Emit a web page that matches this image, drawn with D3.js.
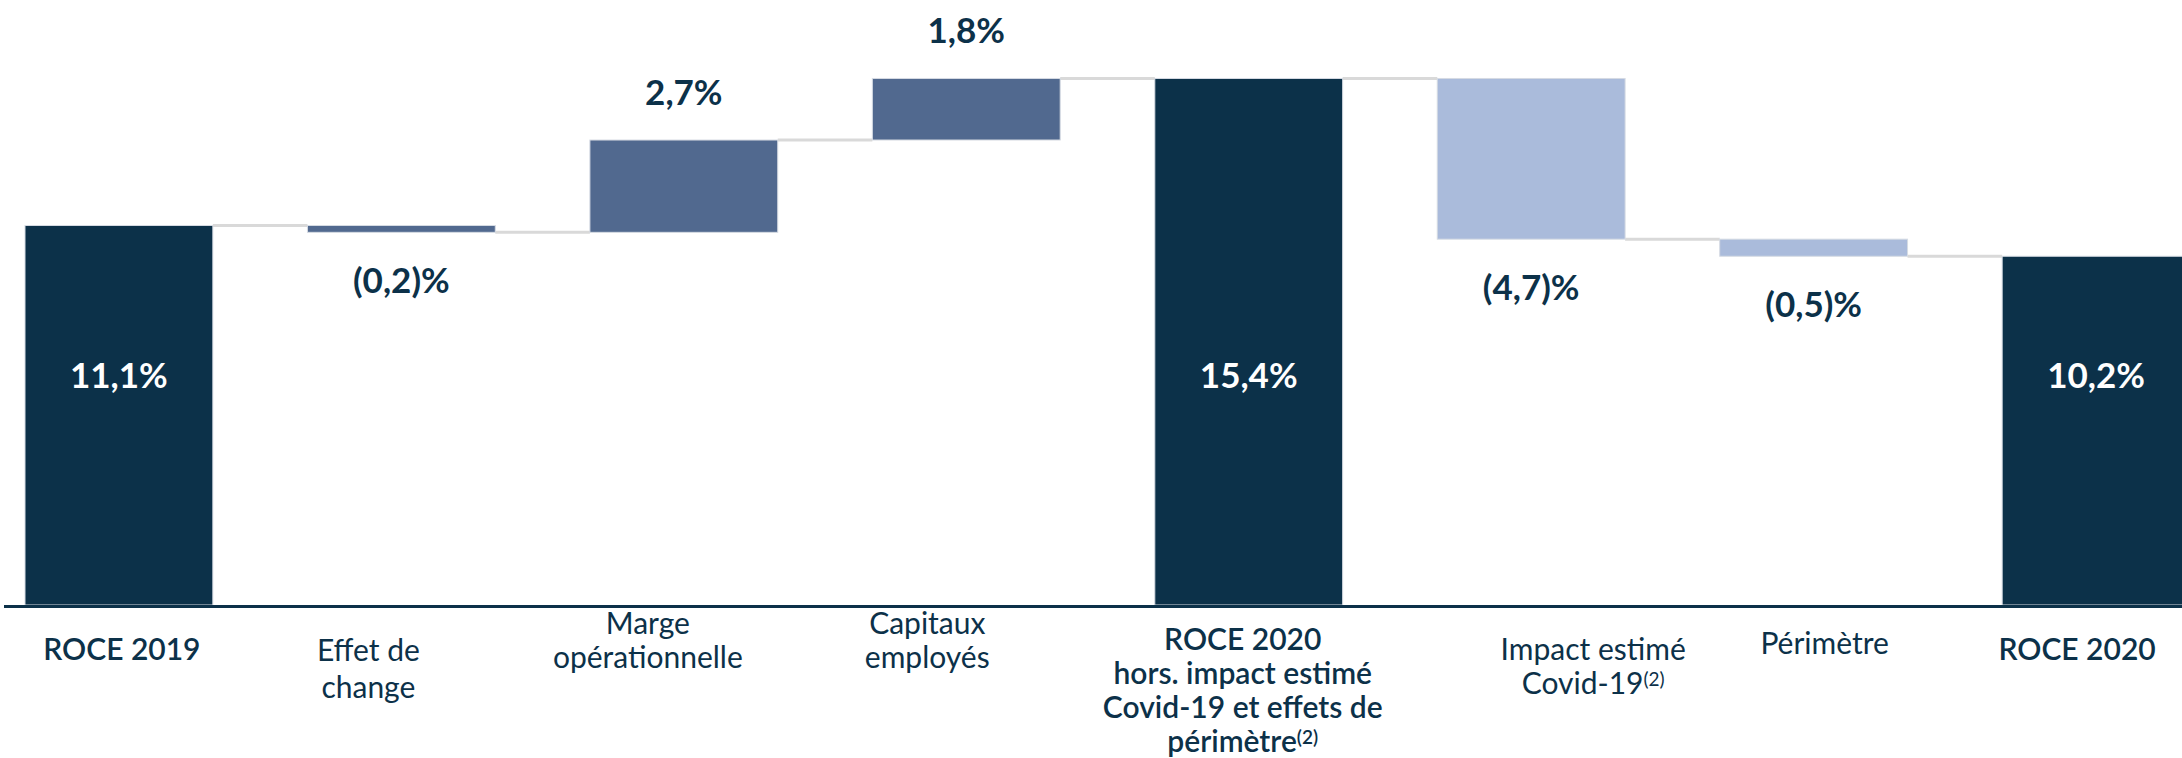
<!DOCTYPE html>
<html>
<head>
<meta charset="utf-8">
<script src="https://cdn.jsdelivr.net/npm/d3@7"></script>
<style>
  body { margin: 0; background: #fff; }
  text { font-family: Lato, "Open Sans", sans-serif; fill: #0c3149; }
</style>
</head>
<body>
<div id="chart"></div>
<script>
// waterfall steps, in %
const categories = ["roce2019", "change", "marge", "capitaux", "roce2020hors", "covid", "perimetre", "roce2020"];
const values = [11.1, -0.2, 2.7, 1.8, 15.4, -4.7, -0.5, 10.2];
const isTotal = [true, false, false, false, true, false, false, true];
// operating effects vs covid / scope effects
const barGroup = ["total", "operating", "operating", "operating", "total", "other", "other", "total"];
const valueLabels = ["11,1%", "(0,2)%", "2,7%", "1,8%", "15,4%", "(4,7)%", "(0,5)%", "10,2%"];
// "^" marks a note reference drawn as superscript
const categoryLines = [
    ["ROCE 2019"],
    ["Effet de", "change"],
    ["Marge", "opérationnelle"],
    ["Capitaux", "employés"],
    ["ROCE 2020", "hors. impact estimé", "Covid-19 et effets de", "périmètre^(2)"],
    ["Impact estimé", "Covid-19^(2)"],
    ["Périmètre"],
    ["ROCE 2020"]
];

// text boxes under the axis are not exactly centred on the bars
const labelDx = [3, -33, -36, -39, -6, 62, 11, -19];
const labelBaseline = [660, 661, 634, 634, 650, 660, 654, 660];
const lineHeight = [34, 37, 34, 34, 34, 34, 34, 34];

const colors = {
    total: "#0c3149",
    operating: "#51698f",
    other: "#aabbdb",
    connector: "#d9d9d9",
    axis: "#0c3149"
};

const width = 2182, height = 758;
const baseY = 605;

const svg = d3.select("#chart")
    .append("svg")
    .attr("width", width)
    .attr("height", height);

const xScale = d3.scaleBand()
    .domain(categories)
    .range([25, 2190])
    .paddingInner(0.335)
    .paddingOuter(0);

const yScale = d3.scaleLinear()
    .domain([0, 16])
    .range([baseY, baseY - 16 * 34.19]);

// running totals
let running = 0;
const steps = values.map((v, i) => {
    let start, end;
    if (isTotal[i]) {
        start = 0; end = v;
    } else {
        start = running; end = running + v;
    }
    running = end;
    return {key: categories[i], i, v, start, end, total: isTotal[i], group: barGroup[i], label: valueLabels[i]};
});

// connectors between bars
const links = steps.slice(0, -1).map((d, i) => ({from: d, to: steps[i + 1], level: d.end}));
svg.selectAll(".connector")
    .data(links)
    .join("line")
    .attr("class", "connector")
    .attr("x1", d => xScale(d.from.key) + xScale.bandwidth())
    .attr("x2", d => xScale(d.to.key))
    .attr("y1", d => yScale(d.level))
    .attr("y2", d => yScale(d.level))
    .attr("stroke", colors.connector)
    .attr("stroke-width", 3);

svg.selectAll(".bar")
    .data(steps)
    .join("rect")
    .attr("class", "bar")
    .attr("x", d => xScale(d.key))
    .attr("width", xScale.bandwidth())
    .attr("y", d => yScale(Math.max(d.start, d.end)))
    .attr("height", d => Math.abs(yScale(d.start) - yScale(d.end)))
    .attr("fill", d => colors[d.group])
    .attr("stroke", "#d6dbe3")
    .attr("stroke-width", 1);

// axis line
svg.append("line")
    .attr("x1", 4)
    .attr("x2", width)
    .attr("y1", baseY + 1.5)
    .attr("y2", baseY + 1.5)
    .attr("stroke", colors.axis)
    .attr("stroke-width", 3);

// value labels
svg.selectAll(".value")
    .data(steps)
    .join("text")
    .attr("class", "value")
    .attr("text-anchor", "middle")
    .attr("x", d => xScale(d.key) + xScale.bandwidth() / 2)
    .attr("y", d => {
        if (d.total) return yScale(6.7) + 12;
        if (d.v >= 0) return yScale(d.end) - 35;
        return yScale(d.end) + 61;
    })
    .style("font-size", "35px")
    .style("font-weight", 700)
    .style("fill", d => d.total ? "#ffffff" : "#0c3149")
    .text(d => d.label);

// category labels
const catG = svg.selectAll(".category")
    .data(steps)
    .join("text")
    .attr("class", "category")
    .attr("text-anchor", "middle")
    .style("font-size", "30px")
    .style("font-weight", d => d.total ? 600 : 400);

catG.each(function(d) {
    const t = d3.select(this);
    const cx = xScale(d.key) + xScale.bandwidth() / 2 + labelDx[d.i];
    categoryLines[d.i].forEach((line, j) => {
        const parts = line.split("^");
        t.append("tspan")
            .attr("x", cx)
            .attr("y", labelBaseline[d.i] + j * lineHeight[d.i])
            .text(parts[0]);
        if (parts[1]) {
            t.append("tspan")
                .attr("dy", -8)
                .style("font-size", "19px")
                .text(parts[1]);
        }
    });
});
</script>
</body>
</html>
